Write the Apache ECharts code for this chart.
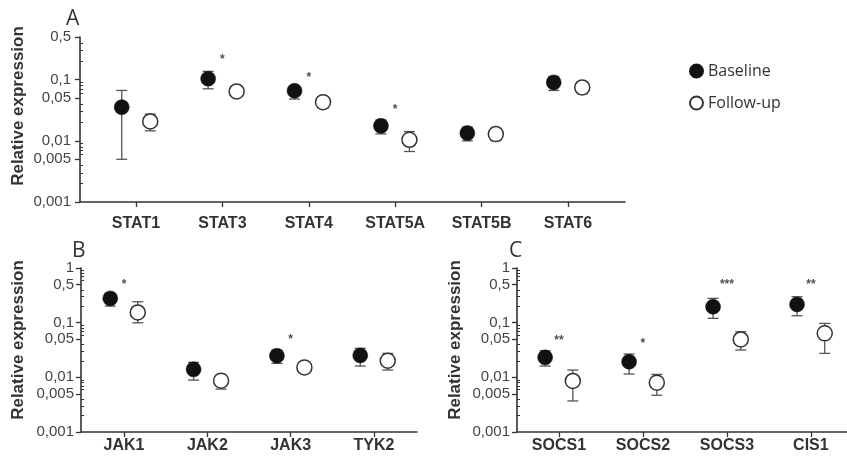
<!DOCTYPE html>
<html>
<head>
<meta charset="utf-8">
<script src="https://cdn.jsdelivr.net/npm/echarts@6/dist/echarts.min.js"></script>
<style>html,body{margin:0;padding:0;background:#fff}#c{width:847px;height:466px}</style>
</head>
<body>
<div id="c"></div>
<script>
// ---- data ----
const catA = ['STAT1','STAT3','STAT4','STAT5A','STAT5B','STAT6'];
const baseA = [0.0356, 0.104, 0.066, 0.0176, 0.0134, 0.0904];
const baseALo = [0.0050, 0.0711, 0.0483, 0.0130, 0.0100, 0.0668];
const baseAHi = [0.0668, 0.137, 0.078, 0.022, 0.0168, 0.113];
const followA = [0.0208, 0.0643, 0.043, 0.0104, 0.0129, 0.0748];
const followALo = [0.0146, 0.057, 0.0344, 0.0067, 0.0101, 0.0589];
const followAHi = [0.0274, 0.073, 0.053, 0.0142, 0.0161, 0.0917];
const starsA = ['', '*', '*', '*', '', ''];
const starLevelA = [null, 0.238, 0.121, 0.036, null, null];

const catB = ['JAK1','JAK2','JAK3','TYK2'];
const baseB = [0.278, 0.0140, 0.0248, 0.0252];
const baseBLo = [0.201, 0.0089, 0.018, 0.0161];
const baseBHi = [0.343, 0.0188, 0.0316, 0.0339];
const followB = [0.154, 0.0087, 0.0152, 0.0201];
const followBLo = [0.0995, 0.0061, 0.0121, 0.0136];
const followBHi = [0.241, 0.011, 0.0185, 0.0274];
const starsB = ['*', '', '*', ''];
const starLevelB = [0.552, null, 0.0546, null];

const catC = ['SOCS1','SOCS2','SOCS3','CIS1'];
const baseC = [0.0232, 0.0193, 0.195, 0.216];
const baseCLo = [0.0161, 0.0115, 0.120, 0.134];
const baseCHi = [0.0307, 0.0267, 0.278, 0.298];
const followC = [0.0086, 0.0080, 0.0494, 0.0637];
const followCLo = [0.0037, 0.0047, 0.0316, 0.0274];
const followCHi = [0.0136, 0.0113, 0.0682, 0.097];
const starsC = ['**', '*', '***', '**'];
const starLevelC = [0.0523, 0.0461, 0.552, 0.552];

const tickValsA = [0.001, 0.005, 0.01, 0.05, 0.1, 0.5];
const tickValsBC = [0.001, 0.005, 0.01, 0.05, 0.1, 0.5, 1];
const tickLabelsBC = ['0,001', '0,005', '0,01', '0,05', '0,1', '0,5', '1'];
const minorVals = [0.002,0.003,0.004,0.006,0.007,0.008,0.009,0.02,0.03,0.04,0.06,0.07,0.08,0.09,0.2,0.3,0.4,0.6,0.7,0.8,0.9];
const yTitle = 'Relative expression';

// ---- helpers ----
const L = v => Math.log10(v);
const OFF = 0.165;
const AX = '#333';
const FONT = '"Liberation Sans", Arial, sans-serif';

function yLabelFmt(v) {
  for (let i = 0; i < tickValsBC.length; i++) {
    if (Math.abs(L(tickValsBC[i]) - v) < 1e-6) return tickLabelsBC[i];
  }
  return '';
}

function makeYAxis(grid, maxV, ticks, margin) {
  return {
    type: 'value', gridIndex: grid, position: 'left',
    min: -3, max: L(maxV),
    axisLine: { show: true, onZero: false, lineStyle: { color: AX, width: 1.6 } },
    axisTick: { show: true, customValues: ticks.map(L), length: 5, lineStyle: { color: AX, width: 1.3 } },
    axisLabel: { customValues: ticks.map(L), formatter: yLabelFmt, color: '#444', fontSize: 15, fontFamily: FONT, margin: margin },
    splitLine: { show: false }
  };
}
function makeMinorAxis(grid, maxV) {
  const vals = minorVals.filter(v => v <= maxV).map(L);
  return {
    type: 'value', gridIndex: grid, position: 'left',
    min: -3, max: L(maxV),
    axisLine: { show: false, onZero: false },
    axisTick: { show: true, inside: true, customValues: vals, length: 3, lineStyle: { color: AX, width: 1 } },
    axisLabel: { show: false },
    splitLine: { show: false }
  };
}
function makeXAxis(grid, cats, min, max, margin) {
  const idx = cats.map((c, i) => i);
  return {
    type: 'value', gridIndex: grid, min: min, max: max,
    axisLine: { show: true, onZero: false, lineStyle: { color: AX, width: 1.6 } },
    axisTick: { show: true, customValues: idx, length: 5, lineStyle: { color: AX, width: 1.3 } },
    axisLabel: { customValues: idx, formatter: v => cats[Math.round(v)], color: '#333', fontWeight: 'bold', fontSize: 16, fontFamily: FONT, margin: margin },
    splitLine: { show: false }
  };
}

function errSeries(name, grid, vals, lo, hi, off) {
  return {
    type: 'custom', name: name + '-err', xAxisIndex: grid, yAxisIndex: grid, z: 1,
    data: vals.map((v, i) => [i + off, L(lo[i]), L(hi[i])]),
    encode: { x: 0, y: [1, 2] },
    renderItem: function (params, api) {
      const x = api.value(0);
      const p1 = api.coord([x, api.value(1)]);
      const p2 = api.coord([x, api.value(2)]);
      const w = 5.5;
      const st = { stroke: '#555', lineWidth: 1.3 };
      return { type: 'group', children: [
        { type: 'line', shape: { x1: p1[0], y1: p1[1], x2: p2[0], y2: p2[1] }, style: st },
        { type: 'line', shape: { x1: p1[0] - w, y1: p1[1], x2: p1[0] + w, y2: p1[1] }, style: st },
        { type: 'line', shape: { x1: p2[0] - w, y1: p2[1], x2: p2[0] + w, y2: p2[1] }, style: st }
      ]};
    },
    silent: true
  };
}
function pointSeries(name, grid, vals, off, filled) {
  return {
    type: 'scatter', name: name, xAxisIndex: grid, yAxisIndex: grid, z: 3,
    symbol: 'circle', symbolSize: 15,
    itemStyle: filled ? { color: '#111', borderColor: '#111', borderWidth: 0.5, opacity: 1 }
                      : { color: '#fff', borderColor: '#333', borderWidth: 1.5, opacity: 1 },
    data: vals.map((v, i) => [i + off, L(v)])
  };
}
function starSeries(grid, stars, levels) {
  const d = [];
  stars.forEach((s, i) => { if (s) d.push([i, L(levels[i]), s]); });
  return {
    type: 'scatter', xAxisIndex: grid, yAxisIndex: grid, z: 4, symbolSize: 1,
    itemStyle: { color: 'rgba(0,0,0,0)' },
    label: { show: true, position: 'inside', formatter: p => p.data[2], color: '#222', fontSize: 12, fontWeight: 'bold', fontFamily: FONT, offset: [0, 3] },
    data: d, silent: true
  };
}

const chart = echarts.init(document.getElementById('c'), null, { renderer: 'canvas' });
const series = [];
[[catA, baseA, baseALo, baseAHi, followA, followALo, followAHi, starsA, starLevelA],
 [catB, baseB, baseBLo, baseBHi, followB, followBLo, followBHi, starsB, starLevelB],
 [catC, baseC, baseCLo, baseCHi, followC, followCLo, followCHi, starsC, starLevelC]].forEach((p, g) => {
  series.push(errSeries('Baseline', g, p[1], p[2], p[3], -OFF));
  series.push(errSeries('Follow-up', g, p[4], p[5], p[6], OFF));
  series.push(pointSeries('Baseline', g, p[1], -OFF, true));
  series.push(pointSeries('Follow-up', g, p[4], OFF, false));
  series.push(starSeries(g, p[7], p[8]));
});

function titleText(x, y, txt) {
  return { type: 'text', x: x, y: y, rotation: Math.PI / 2,
    style: { text: txt, fill: '#333', font: 'bold 17px ' + FONT, align: 'center', verticalAlign: 'middle' } };
}
function panelLetter(x, y, txt) {
  return { type: 'text', x: x, y: y,
    style: { text: txt, fill: '#333', font: '21px "Open Sans", sans-serif', align: 'left', verticalAlign: 'middle' } };
}

chart.setOption({
  animation: false,
  backgroundColor: '#fff',
  grid: [
    { left: 80, top: 37, width: 545, height: 165 },
    { left: 81, top: 268, width: 336, height: 164 },
    { left: 517, top: 268, width: 330, height: 164 }
  ],
  xAxis: [
    makeXAxis(0, catA, -0.648, 5.66, 14),
    makeXAxis(1, catB, -0.516, 3.516, 6),
    makeXAxis(2, catC, -0.5, 3.43, 6)
  ],
  yAxis: [
    makeYAxis(0, 0.5, tickValsA, 9),
    makeYAxis(1, 1, tickValsBC, 7),
    makeYAxis(2, 1, tickValsBC, 7),
    makeMinorAxis(0, 0.5),
    makeMinorAxis(1, 1),
    makeMinorAxis(2, 1)
  ],
  legend: {
    data: ['Baseline', 'Follow-up'],
    orient: 'vertical', left: 684, top: 58,
    itemWidth: 13, itemHeight: 13, itemGap: 16,
    textStyle: { color: '#333', fontSize: 16, fontFamily: '"Open Sans", sans-serif' }
  },
  graphic: [
    titleText(18, 106, yTitle),
    titleText(18, 340, yTitle),
    titleText(455, 340, yTitle),
    panelLetter(66, 19, 'A'),
    panelLetter(72, 251, 'B'),
    panelLetter(509, 251, 'C')
  ],
  series: series
});
</script>
</body>
</html>
